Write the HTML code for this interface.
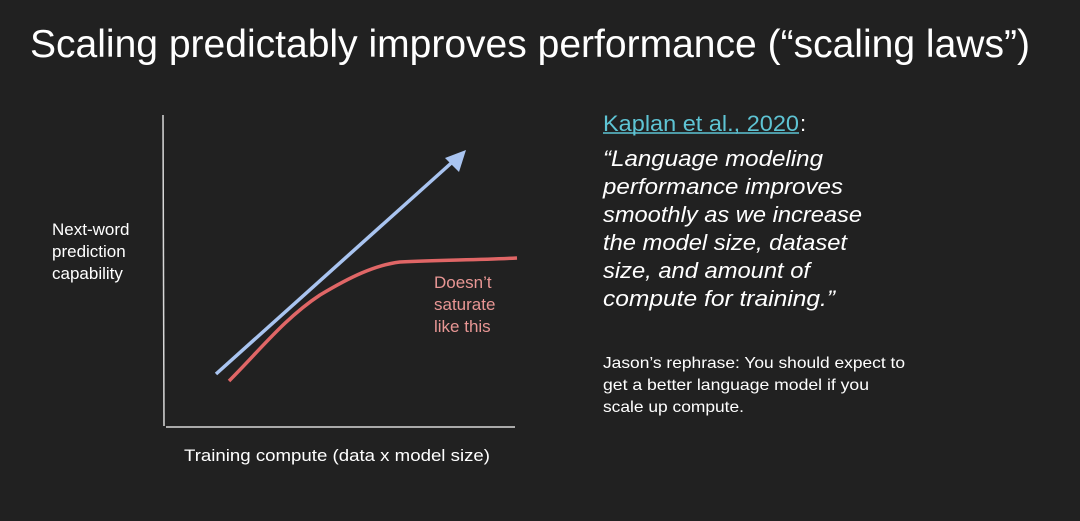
<!DOCTYPE html>
<html><head><meta charset="utf-8"><style>
html,body{margin:0;padding:0;background:#212121;}
svg{display:block;}
text{font-family:"Liberation Sans",sans-serif;}
</style></head><body>
<svg width="1080" height="521" viewBox="0 0 1080 521" xmlns="http://www.w3.org/2000/svg">
<rect width="1080" height="521" fill="#212121"/>
<text x="30" y="57" font-size="39" fill="#ffffff" textLength="1000" lengthAdjust="spacingAndGlyphs">Scaling predictably improves performance (“scaling laws”)</text>
<line x1="163" y1="115" x2="164" y2="426" stroke="#d8d8d8" stroke-width="1.5"/>
<line x1="166" y1="427" x2="515" y2="427" stroke="#d8d8d8" stroke-width="1.5"/>
<line x1="216" y1="374" x2="458" y2="157" stroke="#a9c4f0" stroke-width="3.5"/>
<polygon points="466,150 445,158 459,172" fill="#a9c4f0"/>
<path d="M229,381 C260,350 285,318 320,295 C350,277 375,265 400,262 C440,260 480,260 517,258" fill="none" stroke="#e06666" stroke-width="3.5"/>
<g font-size="17" fill="#ffffff">
<text x="52" y="235">Next-word</text>
<text x="52" y="257">prediction</text>
<text x="52" y="279">capability</text>
<text x="184" y="461" textLength="306" lengthAdjust="spacingAndGlyphs">Training compute (data x model size)</text>
</g>
<g font-size="17" fill="#e89694">
<text x="434" y="288">Doesn’t</text>
<text x="434" y="310">saturate</text>
<text x="434" y="332">like this</text>
</g>
<text x="603" y="131" font-size="22" fill="#5ec4d4" textLength="196" lengthAdjust="spacingAndGlyphs">Kaplan et al., 2020</text>
<line x1="603" y1="133" x2="799" y2="133" stroke="#5ec4d4" stroke-width="1.5"/>
<text x="800" y="131" font-size="22" fill="#ffffff">:</text>
<g font-size="22" font-style="italic" fill="#ffffff">
<text x="603" y="166" textLength="220" lengthAdjust="spacingAndGlyphs">“Language modeling</text>
<text x="603" y="194" textLength="240" lengthAdjust="spacingAndGlyphs">performance improves</text>
<text x="603" y="222" textLength="259" lengthAdjust="spacingAndGlyphs">smoothly as we increase</text>
<text x="603" y="250" textLength="244" lengthAdjust="spacingAndGlyphs">the model size, dataset</text>
<text x="603" y="278" textLength="207" lengthAdjust="spacingAndGlyphs">size, and amount of</text>
<text x="603" y="306" textLength="232" lengthAdjust="spacingAndGlyphs">compute for training.”</text>
</g>
<g font-size="16" fill="#ffffff">
<text x="603" y="368" textLength="302" lengthAdjust="spacingAndGlyphs">Jason’s rephrase: You should expect to</text>
<text x="603" y="390" textLength="266" lengthAdjust="spacingAndGlyphs">get a better language model if you</text>
<text x="603" y="412" textLength="141" lengthAdjust="spacingAndGlyphs">scale up compute.</text>
</g>
</svg>
</body></html>
